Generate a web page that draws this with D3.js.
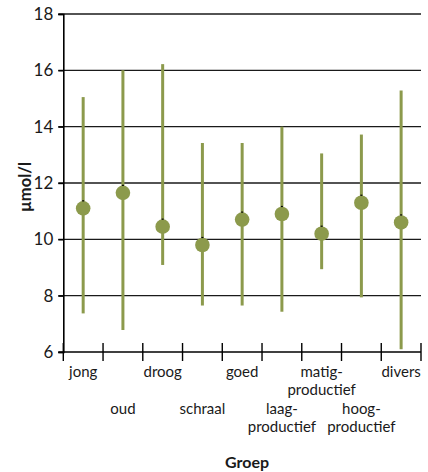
<!DOCTYPE html>
<html><head><meta charset="utf-8">
<script src="https://cdn.jsdelivr.net/npm/d3@7"></script>
<style>body{margin:0;background:#fff}svg{display:block}text{font-family:Lato,"Open Sans",sans-serif}</style>
</head><body><svg id="c" width="428" height="472"></svg>
<script>
const categories = ["jong","oud","droog","schraal","goed","laag-productief","matig-productief","hoog-productief","divers"];
const labelLines = [["jong"],["oud"],["droog"],["schraal"],["goed"],["laag-","productief"],["matig-","productief"],["hoog-","productief"],["divers"]];
const means = [11.1, 11.65, 10.45, 9.8, 10.7, 10.9, 10.2, 11.3, 10.6];
const lows  = [7.37, 6.78, 9.09, 7.65, 7.65, 7.43, 8.94, 7.94, 6.1];
const highs = [15.05, 16.0, 16.22, 13.42, 13.42, 14.0, 13.05, 13.72, 15.28];
const yTicks = [6, 8, 10, 12, 14, 16, 18];

const svg = d3.select("#c");
const m = {l:63.3, r:421, t:14, b:352};
const x = d3.scaleBand().domain(categories).range([m.l, m.r]);
const y = d3.scaleLinear().domain([6, 18]).range([m.b, m.t]);
const col = "#8c9a4c";

// gridlines
svg.append("g").selectAll("line").data(yTicks.filter(d=>d>6)).join("line")
  .attr("x1", m.l-5).attr("x2", m.r).attr("y1", d=>y(d)).attr("y2", d=>y(d))
  .attr("stroke", "#1a1a1a").attr("stroke-width", 1.4);

// y axis
const ya = svg.append("g").attr("transform", `translate(${m.l},0)`)
  .call(d3.axisLeft(y).tickValues(yTicks).tickSize(5).tickPadding(5));
ya.select(".domain").attr("stroke","#000").attr("stroke-width",1.6);
ya.selectAll(".tick line").attr("stroke","#000").attr("stroke-width",1.4);
ya.selectAll("text").attr("font-size", 17).attr("fill", "#1a1a1a");

// x axis
const xa = svg.append("g");
xa.append("line").attr("x1", m.l-5).attr("x2", m.r).attr("y1", m.b).attr("y2", m.b)
  .attr("stroke","#000").attr("stroke-width",1.6);
const edges = categories.map(c=>x(c)).concat([x(categories[categories.length-1])+x.bandwidth()]);
xa.selectAll("line.t").data(edges).join("line").attr("class","t")
  .attr("x1", d=>d).attr("x2", d=>d).attr("y1", m.b-9).attr("y2", m.b+9)
  .attr("stroke","#000").attr("stroke-width",1.4);

// x labels staggered, one text element per line
const lg = svg.append("g");
categories.forEach((c,i)=>{
  const row = i % 2;
  const y0 = (row===0 ? 377 : 414);
  labelLines[i].forEach((l,j)=>{
    lg.append("text").attr("x", x(c)+x.bandwidth()/2).attr("y", y0 + j*18)
      .attr("text-anchor","middle").attr("font-size",15).attr("fill","#1a1a1a").text(l);
  });
});

// whiskers
const g = svg.append("g");
g.selectAll("line.w").data(categories).join("line").attr("class","w")
  .attr("x1",(d)=>x(d)+x.bandwidth()/2).attr("x2",(d)=>x(d)+x.bandwidth()/2)
  .attr("y1",(d,i)=>y(highs[i])).attr("y2",(d,i)=>y(lows[i]))
  .attr("stroke",col).attr("stroke-width",3);
g.selectAll("circle").data(categories).join("circle")
  .attr("cx",(d)=>x(d)+x.bandwidth()/2).attr("cy",(d,i)=>y(means[i]))
  .attr("r",7.3).attr("fill",col);
g.selectAll("line.k").data(categories).join("line").attr("class","k")
  .attr("x1",(d)=>x(d)+x.bandwidth()/2-1).attr("x2",(d)=>x(d)+x.bandwidth()/2+1)
  .attr("y1",(d,i)=>y(means[i])-7.5).attr("y2",(d,i)=>y(means[i])-7.5)
  .attr("stroke","#000").attr("stroke-width",1.2);

// axis titles
svg.append("text").attr("x", (m.l+m.r)/2+5).attr("y", 468).attr("text-anchor","middle")
  .attr("font-size",16).attr("font-weight","bold").attr("fill","#1a1a1a").text("Groep");
svg.append("text").attr("transform", `translate(31,${(m.t+m.b)/2+4}) rotate(-90)`)
  .attr("text-anchor","middle").attr("font-size",16.5).attr("font-weight","bold").attr("fill","#1a1a1a").text("µmol/l");
</script></body></html>
